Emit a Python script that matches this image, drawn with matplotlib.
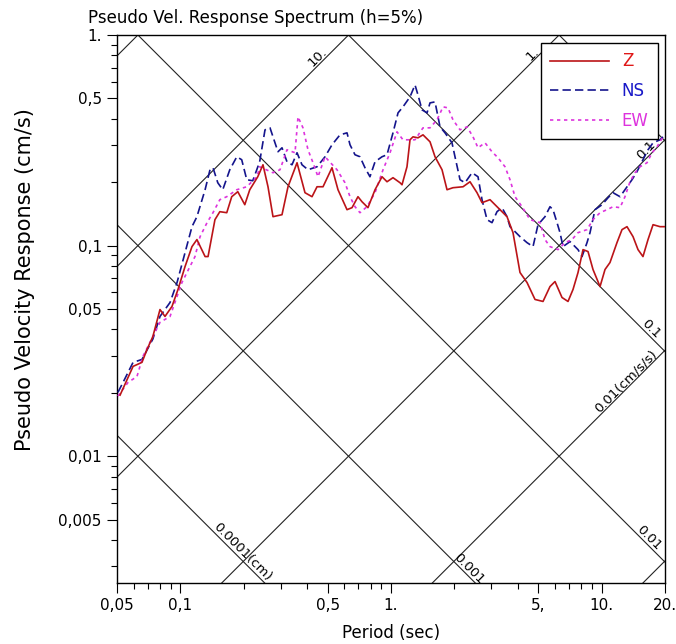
import numpy as np
import matplotlib
matplotlib.use('Agg')
import matplotlib.pyplot as plt
from matplotlib.ticker import LogLocator, NullFormatter

plt.rcParams['font.family'] = ['DejaVu Sans']

# Pseudo velocity response (cm/s) against period (sec), h = 5%
z_period = [0.0517, 0.0596, 0.0657, 0.0694, 0.0740, 0.0800, 0.0845, 0.0912, 0.0974, 0.1052,
            0.1135, 0.1198, 0.131, 0.1353, 0.1459, 0.1539, 0.166, 0.1753, 0.1873, 0.2022,
            0.2135, 0.233, 0.2467, 0.2606, 0.2752, 0.3037, 0.3243, 0.3579, 0.3905, 0.4217,
            0.4454, 0.4756, 0.5246, 0.5602, 0.6182, 0.653, 0.6969, 0.728, 0.7773, 0.8398,
            0.9066, 0.9573, 1.022, 1.104, 1.128, 1.191, 1.231, 1.272, 1.343, 1.419,
            1.532, 1.618, 1.747, 1.845, 1.969, 2.198, 2.372, 2.561, 2.705, 2.952,
            3.293, 3.555, 3.796, 4.098, 4.424, 4.828, 5.27, 5.688, 6.009, 6.486,
            6.926, 7.316, 7.727, 8.161, 8.62, 9.103, 9.829, 10.38, 10.96, 11.83,
            12.5, 13.2, 14.1, 14.89, 15.72, 16.61, 17.55, 18.94, 20.0]
z_psv = [0.0195, 0.0267, 0.0279, 0.0321, 0.0370, 0.0497, 0.0461, 0.0514, 0.0619, 0.0795,
         0.0989, 0.1068, 0.0887, 0.0887, 0.1328, 0.1449, 0.1433, 0.1707, 0.1803, 0.1564,
         0.1842, 0.2123, 0.2420, 0.1903, 0.1372, 0.1402, 0.1903, 0.2474, 0.1783, 0.1707,
         0.1903, 0.1903, 0.2343, 0.1842, 0.1481, 0.1514, 0.1707, 0.1616, 0.1514, 0.1842,
         0.2123, 0.2010, 0.2101, 0.1988, 0.1945, 0.2368, 0.3180, 0.3285, 0.3249, 0.3357,
         0.3111, 0.2642, 0.2292, 0.1842, 0.1883, 0.1903, 0.2010, 0.1783, 0.1599, 0.1652,
         0.1481, 0.1372, 0.1152, 0.0745, 0.0668, 0.0555, 0.0543, 0.0639, 0.0675, 0.0567,
         0.0543, 0.0619, 0.0745, 0.0957, 0.0937, 0.0770, 0.0639, 0.0770, 0.0831, 0.1033,
         0.1191, 0.1230, 0.1103, 0.0957, 0.0887, 0.1068, 0.1257, 0.1230, 0.1230]

ns_period = [0.0505, 0.0534, 0.0596, 0.0657, 0.0740, 0.08, 0.0893, 0.0964, 0.1135, 0.1198,
             0.131, 0.1382, 0.1428, 0.1505, 0.1589, 0.1716, 0.1853, 0.1955, 0.2066, 0.2206,
             0.2379, 0.2522, 0.2664, 0.2813, 0.2907, 0.3037, 0.3207, 0.3388, 0.3579, 0.3779,
             0.4035, 0.4454, 0.4861, 0.5246, 0.5725, 0.6182, 0.6388, 0.6746, 0.7123, 0.7523,
             0.7945, 0.8398, 0.9066, 0.9573, 1.022, 1.08, 1.14, 1.231, 1.3, 1.343,
             1.404, 1.483, 1.532, 1.618, 1.709, 1.805, 1.948, 2.013, 2.127, 2.246,
             2.425, 2.589, 2.705, 2.857, 3.017, 3.187, 3.366, 3.555, 3.674, 4.098,
             4.424, 4.724, 4.99, 5.386, 5.688, 5.879, 6.142, 6.346, 6.558, 7.079,
             7.727, 8.072, 8.526, 8.81, 9.304, 10.05, 10.73, 11.33, 12.23, 12.91,
             13.94, 14.72, 15.72, 16.61, 17.55, 18.94, 20.0]
ns_psv = [0.0201, 0.0224, 0.0279, 0.0288, 0.0360, 0.0461, 0.0537, 0.0668, 0.123, 0.1372,
          0.1842, 0.2292, 0.2343, 0.1988, 0.1842, 0.2292, 0.2642, 0.2557, 0.2055, 0.2032,
          0.2501, 0.3546, 0.3624, 0.3077, 0.279, 0.2914, 0.2501, 0.242, 0.276, 0.242,
          0.2292, 0.2368, 0.2642, 0.3011, 0.3357, 0.3431, 0.3011, 0.27, 0.2642, 0.2343,
          0.2123, 0.2501, 0.2642, 0.27, 0.3431, 0.4269, 0.4558, 0.5084, 0.5794, 0.5195,
          0.4411, 0.4269, 0.4761, 0.4813, 0.3664, 0.3431, 0.3077, 0.2642, 0.2055, 0.1988,
          0.2218, 0.2123, 0.1652, 0.1328, 0.1285, 0.1449, 0.1514, 0.1372, 0.123, 0.1103,
          0.1033, 0.0989, 0.1257, 0.1372, 0.153, 0.1481, 0.1285, 0.1152, 0.0989, 0.1045,
          0.0957, 0.0887, 0.1033, 0.1152, 0.1481, 0.1564, 0.1688, 0.1783, 0.1707, 0.1842,
          0.2055, 0.2243, 0.2557, 0.2851, 0.3077, 0.318, 0.3357]

ew_period = [0.0505, 0.0564, 0.0622, 0.0664, 0.08, 0.0893, 0.1017, 0.1173, 0.124, 0.1338,
             0.1428, 0.1539, 0.166, 0.1853, 0.2066, 0.2311, 0.2379, 0.2752, 0.2971, 0.3207,
             0.3501, 0.3618, 0.382, 0.4035, 0.4263, 0.4502, 0.4861, 0.5541, 0.6047, 0.6388,
             0.6746, 0.7123, 0.7689, 0.8398, 0.9166, 0.9893, 1.068, 1.14, 1.3, 1.419,
             1.532, 1.654, 1.766, 1.865, 1.969, 2.127, 2.296, 2.451, 2.589, 2.795,
             3.017, 3.222, 3.478, 3.674, 3.88, 4.189, 4.573, 5.099, 5.386, 5.688,
             6.209, 6.703, 7.236, 7.727, 8.526, 9.103, 9.829, 10.61, 11.33, 12.23,
             12.91, 13.64, 14.41, 15.21, 16.43, 17.35, 18.33, 19.57]
ew_psv = [0.0193, 0.0224, 0.0239, 0.0298, 0.0432, 0.0461, 0.0668, 0.0887, 0.1103, 0.1285,
          0.1433, 0.1652, 0.1707, 0.1842, 0.1903, 0.2123, 0.2368, 0.2218, 0.2292, 0.2851,
          0.276, 0.4088, 0.3624, 0.2851, 0.2474, 0.2123, 0.2642, 0.2292, 0.1988, 0.1707,
          0.153, 0.1433, 0.153, 0.1783, 0.2292, 0.276, 0.3469, 0.318, 0.318, 0.3624,
          0.3624, 0.3956, 0.4558, 0.4508, 0.3956, 0.3546, 0.3664, 0.3285, 0.2914, 0.3077,
          0.279, 0.2613, 0.2368, 0.2055, 0.1707, 0.153, 0.1328, 0.1285, 0.1068, 0.0989,
          0.0957, 0.1033, 0.1068, 0.1152, 0.1191, 0.1328, 0.1433, 0.1481, 0.153, 0.1514,
          0.1707, 0.201, 0.2218, 0.2368, 0.2474, 0.276, 0.2946, 0.3285]

# tripartite grid: pseudo acceleration (cm/s/s) and displacement (cm)
acc_levels = [0.001, 0.01, 0.1, 1.0, 10.0, 100.0]
disp_levels = [0.0001, 0.001, 0.01, 0.1, 1.0]
acc_labels = [(10.0, 0.47, '10.'), (1.0, 4.9, '1.'), (0.1, 17.0, '0.1'),
              (0.01, 13.6, '0.01(cm/s/s)')]
disp_labels = [(0.1, 16.4, '0.1'), (0.01, 16.0, '0.01'), (0.001, 2.25, '0.001'),
               (0.0001, 0.188, '0.0001(cm)')]

x_ticks = [0.05, 0.1, 0.5, 1, 5, 10, 20]
x_tick_labels = ['0,05', '0,1', '0,5', '1.', '5,', '10.', '20.']
y_ticks = [0.005, 0.01, 0.05, 0.1, 0.5, 1]
y_tick_labels = ['0,005', '0,01', '0,05', '0,1', '0,5', '1.']

fig = plt.figure(figsize=(6.76, 6.44), dpi=100)
ax = fig.add_axes([117 / 676, 61 / 644, 548 / 676, 548 / 644])
ax.set_xscale('log')
ax.set_yscale('log')

T = np.array([0.05, 20.0])
for sa in acc_levels:
    ax.plot(T, sa * T / (2 * np.pi), color='#222222', lw=0.8, zorder=1)
for sd in disp_levels:
    ax.plot(T, 2 * np.pi * sd / T, color='#222222', lw=0.8, zorder=1)

for sa, per, txt in acc_labels:
    ax.annotate(txt, (per, sa * per / (2 * np.pi)), xytext=(-3, 3), textcoords='offset points',
                rotation=45, rotation_mode='anchor', ha='center', va='center', fontsize=9.5,
                zorder=2)
for sd, per, txt in disp_labels:
    ax.annotate(txt, (per, 2 * np.pi * sd / per), xytext=(3, 3), textcoords='offset points',
                rotation=-45, rotation_mode='anchor', ha='center', va='center', fontsize=9.5,
                zorder=2)

ax.plot(z_period, z_psv, color='#bb1418', lw=1.2, label='Z', zorder=4)
ax.plot(ns_period, ns_psv, color='#14148c', lw=1.2, ls=(0, (5, 2.5)), label='NS', zorder=3)
ax.plot(ew_period, ew_psv, color='#dd33dd', lw=1.2, ls=(0, (2, 2.2)), label='EW', zorder=3)

ax.set_xlim(0.05, 20)
ax.set_ylim(0.0025, 1)
ax.set_xticks(x_ticks, x_tick_labels)
ax.set_yticks(y_ticks, y_tick_labels)
ax.xaxis.set_minor_locator(LogLocator(base=10, subs=np.arange(2, 10)))
ax.yaxis.set_minor_locator(LogLocator(base=10, subs=np.arange(2, 10)))
ax.xaxis.set_minor_formatter(NullFormatter())
ax.yaxis.set_minor_formatter(NullFormatter())
ax.tick_params(which='both', direction='out', top=False, right=False, labelsize=11, width=0.8)
ax.tick_params(which='major', length=7, pad=4)
ax.tick_params(which='minor', length=4)
for sp in ax.spines.values():
    sp.set_linewidth(1.0)

leg = ax.legend(loc='upper right', bbox_to_anchor=(0.987, 0.985), borderaxespad=0,
                fontsize=12, handlelength=3.5, labelspacing=0.7, borderpad=0.55,
                frameon=True, fancybox=False, framealpha=1, edgecolor='black')
leg.get_frame().set_linewidth(1.0)
for txt, col in zip(leg.get_texts(), ['#e01818', '#1818c8', '#dd33dd']):
    txt.set_color(col)

fig.text(88 / 676, 1 - 23 / 644, 'Pseudo Vel. Response Spectrum (h=5%)', fontsize=12,
         ha='left', va='baseline')
fig.text(25 / 676, 1 - 280 / 644, 'Pseudo Velocity Response (cm/s)', fontsize=15,
         rotation=90, ha='center', va='center')
fig.text(391 / 676, 1 - 633 / 644, 'Period (sec)', fontsize=12, ha='center', va='center')

fig.savefig('out.png', dpi=100)
